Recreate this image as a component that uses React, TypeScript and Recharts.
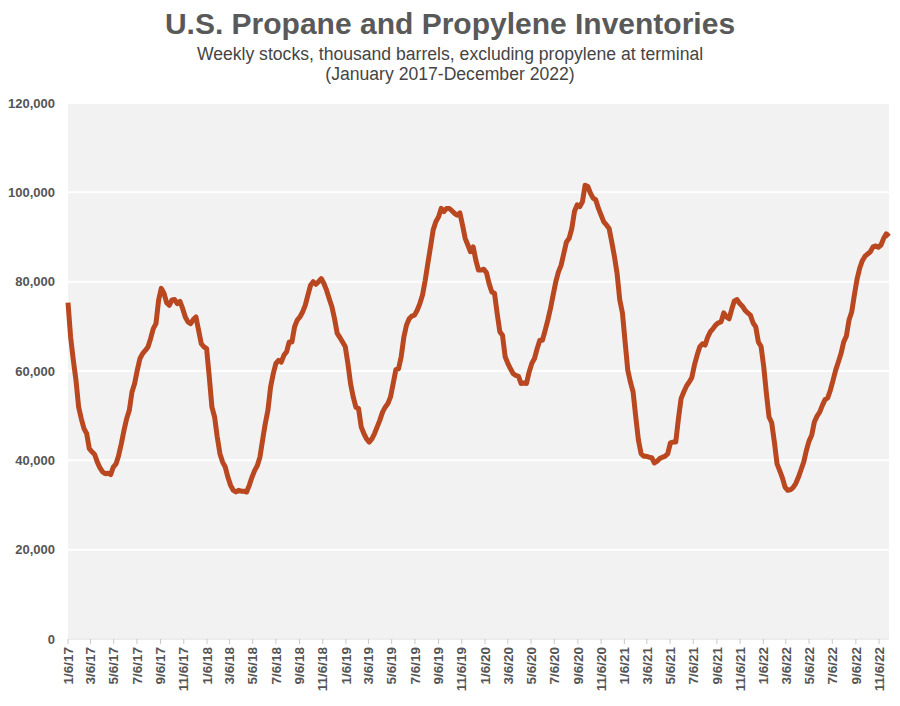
import { LineChart, Line, XAxis, YAxis, CartesianGrid } from "recharts";

// Weekly stocks, thousand barrels (week ending Fridays, first week 1/6/17)
const firstWeek = "1/6/17";

const stocks2017 = [
  75300, 67500, 62400, 57900, 51900, 49300, 47100, 46000, 42600, 41900,
  41300, 39600, 38300, 37400, 37000, 37100, 36800, 38500, 39200, 41100,
  43700, 46700, 49300, 51200, 55300, 57200, 60200, 62800, 63900, 64600,
  65400, 67300, 69500, 70600, 75900, 78500, 77400, 75300, 74700, 75900,
  76000, 75100, 75600, 74000, 72100, 71000, 70600, 71500, 72100, 69100,
  66100, 65400,
];

const stocks2018 = [
  65000, 58700, 51900, 49700, 45200, 41500, 39600, 38500, 36200, 34400,
  33300, 32900, 33300, 33100, 33100, 32900, 34400, 36200, 37700, 38800,
  40700, 44500, 48200, 51200, 56400, 59400, 61700, 62400, 62000, 63500,
  64300, 66500, 66500, 69900, 71400, 72100, 73200, 74700, 77000, 79200,
  80000, 79400, 80000, 80700, 79600, 78100, 76200, 74400, 71700, 68400,
  67500, 66500,
];

const stocks2019 = [
  65500, 61700, 57200, 54200, 51900, 51600, 47500, 46000, 44800, 44100,
  44800, 46000, 47500, 49000, 50800, 51900, 52700, 54200, 57200, 60300,
  60500, 63200, 67600, 70300, 71700, 72300, 72500, 73600, 75100, 77000,
  80300, 84100, 87800, 91600, 93400, 94500, 96400, 95700, 96400, 96400,
  95900, 95300, 94900, 95400, 92700, 89700, 88200, 86700, 87800, 84800,
  82600, 82600,
];

const stocks2020 = [
  82800, 82000, 79500, 77700, 77400, 72900, 68800, 68000, 63200, 61700,
  60500, 59400, 59000, 58800, 57200, 57300, 57200, 59800, 61700, 62800,
  65000, 66900, 66900, 69100, 71400, 74000, 77000, 80000, 82200, 83700,
  86300, 88900, 89700, 91900, 95700, 97200, 96800, 97900, 101600, 101300,
  99800, 98700, 98300, 96400, 94900, 93400, 92700, 91900, 88900, 85600,
  81800, 75900,
];

const stocks2021 = [
  73000, 66500, 60200, 57500, 55300, 49700, 44500, 41500, 40900, 40900,
  40700, 40600, 39400, 39800, 40400, 40700, 40900, 41500, 43900, 44100,
  44100, 49300, 53800, 55300, 56600, 57500, 58500, 61300, 63500, 65400,
  66100, 65800, 67600, 68800, 69500, 70300, 70800, 71000, 73000, 72100,
  71700, 73800, 75700, 76000, 75100, 74500, 73600, 73000, 72500, 70800,
  69900, 66500, 65500,
];

const stocks2022 = [
  61000, 55000, 49700, 48400, 44100, 39200, 37700, 36100, 34000, 33300,
  33400, 33900, 34800, 36200, 37900, 39600, 42200, 44300, 45600, 48600,
  49900, 50800, 52300, 53600, 54000, 55700, 57900, 60200, 62000, 63900,
  66500, 67800, 71400, 73200, 77000, 80500, 83000, 84700, 85700, 86200,
  86700, 87800, 88000, 87700, 88200, 89700, 90700, 90100,
];

const xTickLabels = [
  "1/6/17", "3/6/17", "5/6/17", "7/6/17", "9/6/17", "11/6/17",
  "1/6/18", "3/6/18", "5/6/18", "7/6/18", "9/6/18", "11/6/18",
  "1/6/19", "3/6/19", "5/6/19", "7/6/19", "9/6/19", "11/6/19",
  "1/6/20", "3/6/20", "5/6/20", "7/6/20", "9/6/20", "11/6/20",
  "1/6/21", "3/6/21", "5/6/21", "7/6/21", "9/6/21", "11/6/21",
  "1/6/22", "3/6/22", "5/6/22", "7/6/22", "9/6/22", "11/6/22",
];

const yTicks = [0, 20000, 40000, 60000, 80000, 100000, 120000];

const DAY = 24 * 3600 * 1000;
const FONT = '"Liberation Sans", Arial, Helvetica, sans-serif';

function parseDate(s: string) {
  const [m, d, y] = s.split("/").map(Number);
  return Date.UTC(2000 + y, m - 1, d);
}

const start = parseDate(firstWeek);
const allStocks = [
  ...stocks2017, ...stocks2018, ...stocks2019,
  ...stocks2020, ...stocks2021, ...stocks2022,
];
// day offset from the first week, one point per week
const data = allStocks.map((v, i) => ({ day: i * 7, stock: v }));
const lastDay = data[data.length - 1].day;

const tickDays = xTickLabels.map((s) => Math.round((parseDate(s) - start) / DAY));
const labelByDay: Record<number, string> = {};
tickDays.forEach((d, i) => (labelByDay[d] = xTickLabels[i]));

function DateTick({ x, y, payload }: any) {
  return (
    <text
      x={x}
      y={y}
      dy="0.35em"
      transform={`rotate(-90 ${x} ${y})`}
      textAnchor="end"
      fill="#555"
      fontSize={13.5}
      fontWeight="bold"
      fontFamily={FONT}
    >
      {labelByDay[payload.value]}
    </text>
  );
}

export default function App() {
  return (
    <div
      style={{
        position: "absolute",
        left: 0,
        top: 0,
        width: 900,
        height: 706,
        background: "#fff",
        fontFamily: FONT,
      }}
    >
      <div
        style={{
          position: "absolute",
          top: 6,
          width: 900,
          textAlign: "center",
          fontSize: 30,
          lineHeight: "36px",
          fontWeight: "bold",
          color: "#595959",
        }}
      >
        U.S. Propane and Propylene Inventories
      </div>
      <div
        style={{
          position: "absolute",
          top: 44,
          width: 900,
          textAlign: "center",
          fontSize: 17.6,
          lineHeight: "20px",
          color: "#454545",
        }}
      >
        Weekly stocks, thousand barrels, excluding propylene at terminal
        <br />
        (January 2017-December 2022)
      </div>
      <div style={{ position: "absolute", left: 0, top: 0 }}>
        <LineChart
          width={900}
          height={706}
          data={data}
          margin={{ top: 103, right: 11, bottom: 7, left: 8 }}
        >
          <CartesianGrid
            vertical={false}
            fill="#f2f2f2"
            stroke="#ffffff"
            strokeWidth={2}
          />
          <XAxis
            dataKey="day"
            type="number"
            domain={[0, lastDay]}
            ticks={tickDays}
            interval={0}
            height={60}
            tick={<DateTick />}
            tickSize={5}
            tickMargin={3}
            axisLine={{ stroke: "#d9d9d9" }}
            tickLine={{ stroke: "#c8c8c8" }}
          />
          <YAxis
            type="number"
            domain={[0, 120000]}
            ticks={yTicks}
            width={60}
            axisLine={false}
            tickLine={false}
            tickSize={0}
            tickMargin={13}
            tickFormatter={(v: number) => v.toLocaleString("en-US")}
            tick={{ fill: "#555", fontSize: 13, fontWeight: "bold", fontFamily: FONT }}
          />
          <Line
            type="linear"
            dataKey="stock"
            stroke="#b9471f"
            strokeWidth={5}
            strokeLinejoin="round"
            dot={false}
            isAnimationActive={false}
          />
        </LineChart>
      </div>
    </div>
  );
}
